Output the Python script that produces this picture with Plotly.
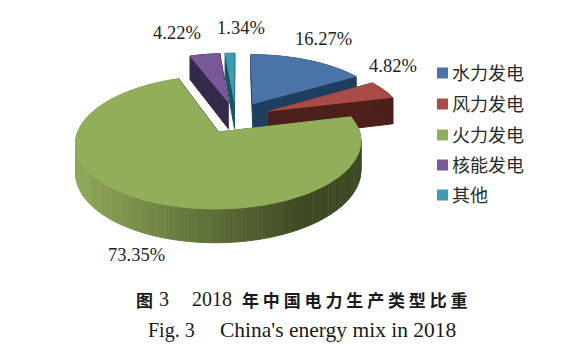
import math
import plotly.graph_objects as go

categories = ["水力发电", "风力发电", "火力发电", "核能发电", "其他"]
values = [16.27, 4.82, 73.35, 4.22, 1.34]

top_colors = ["#4a74a8", "#a94c48", "#93ae5a", "#79589a", "#3f9bb2"]
wall_colors = ["#1f3f60", "#4c1f1b", None, "#352a4a", "#1c5360"]
legend_rows = [73, 104, 135, 165, 195]
label_pos = [(323, 39), (393, 66), (136, 255), (177, 33), (241, 28)]

X0, Y0, R, F, K, PULL, THICK = 236, 117.5, 136, 0.445, 0.15, 0.263, 27.5


def project(u, v, z=0.0):
    s = 1 / (1 + K * v)
    return X0 + R * u * s, Y0 - R * F * v * s + z * THICK * s


fig = go.Figure()


def poly(xs, ys, color):
    fig.add_trace(go.Scatter(x=xs, y=ys, mode="lines", fill="toself", fillcolor=color,
                             line=dict(color=color, width=1), hoverinfo="skip", showlegend=False))


def lerp_hex(a, b, t):
    ca = [int(a[i:i + 2], 16) for i in (1, 3, 5)]
    cb = [int(b[i:i + 2], 16) for i in (1, 3, 5)]
    return "#" + "".join(f"{round(x + (y - x) * t):02x}" for x, y in zip(ca, cb))


total = sum(values)
spans = []
start = 0.0
for v in values:
    end = start + v / total * 2 * math.pi
    spans.append((start, end))
    start = end


def slice_geom(a0, a1, n):
    mid = (a0 + a1) / 2
    cu, cv = PULL * math.sin(mid), PULL * math.cos(mid)
    angles = [a0 + (a1 - a0) * i / n for i in range(n + 1)]
    rim = [(cu + math.sin(a), cv + math.cos(a)) for a in angles]
    return (cu, cv), rim


def draw_slice(i):
    a0, a1 = spans[i]
    n = max(8, int((a1 - a0) * 40))
    c, rim = slice_geom(a0, a1, n)
    wall = wall_colors[i]
    side_color = wall if wall else "#3e4a24"
    # radial side faces
    for p in (rim[0], rim[-1]):
        quad = [project(*c), project(*p), project(*p, 1), project(*c, 1)]
        poly([q[0] for q in quad], [q[1] for q in quad], side_color)
    # outer wall
    for j in range(n):
        p, q = rim[j], rim[j + 1]
        if wall:
            col = wall
        else:
            # the visible green wall fades from light at the left to dark at the right
            t = (project(*p)[0] - 76) / 286
            col = lerp_hex("#8fa858", "#3d4923", min(1, max(0, t * 1.25)))
        pts = [project(*p), project(*q), project(*q, 1), project(*p, 1)]
        poly([a[0] for a in pts], [a[1] for a in pts], col)
    # top face
    pts = [project(*c)] + [project(*p) for p in rim]
    poly([a[0] for a in pts], [a[1] for a in pts], top_colors[i])


for i in [4, 3, 0, 1, 2]:
    draw_slice(i)

annotations = []

# legend
for name, row, col in zip(categories, legend_rows, top_colors):
    fig.add_trace(go.Scatter(x=[442.5], y=[row], mode="markers", name=name,
                             marker=dict(symbol="square", size=11, color=col),
                             hoverinfo="name", showlegend=False))
    annotations.append(dict(x=449.5, y=row - 1.5, text=name, showarrow=False, xref="x", yref="y", xanchor="left",
                            font=dict(family="Noto Sans CJK SC", size=18, color="#2a2a2a")))

for val, (x, y) in zip(values, label_pos):
    annotations.append(dict(x=x, y=y, text=f"{val:.2f}%", showarrow=False, xref="x", yref="y",
                            font=dict(family="Liberation Serif", size=18.5, color="#222222")))

SERIF = "Liberation Serif"
CJK = "Noto Sans CJK SC"
title_runs = [
    ("<b>图</b>", 144, 299, CJK, 17),
    ("3", 164, 299, SERIF, 20),
    ("2018", 212, 299, SERIF, 20),
    ("<b>" + "\u00a0".join("年中国电力生产类型比重") + "</b>", 355, 299, CJK, 17),
    ("Fig. 3", 171, 330, SERIF, 20),
    ("China's energy mix in 2018", 337.5, 330, SERIF, 21.5),
]
for text, x, y, fam, size in title_runs:
    annotations.append(dict(x=x, y=y, text=text, showarrow=False, xref="x", yref="y",
                            font=dict(family=fam, size=size, color="#1a1a1a")))

fig.update_layout(
    width=569, height=355, margin=dict(l=0, r=0, t=0, b=0),
    paper_bgcolor="white", plot_bgcolor="white", showlegend=False,
    xaxis=dict(range=[0, 569], visible=False, fixedrange=True),
    yaxis=dict(range=[355, 0], visible=False, fixedrange=True),
    annotations=annotations,
)
fig.write_html("out.html", config=dict(displayModeBar=False),
               post_script="document.body.style.margin='0';")
